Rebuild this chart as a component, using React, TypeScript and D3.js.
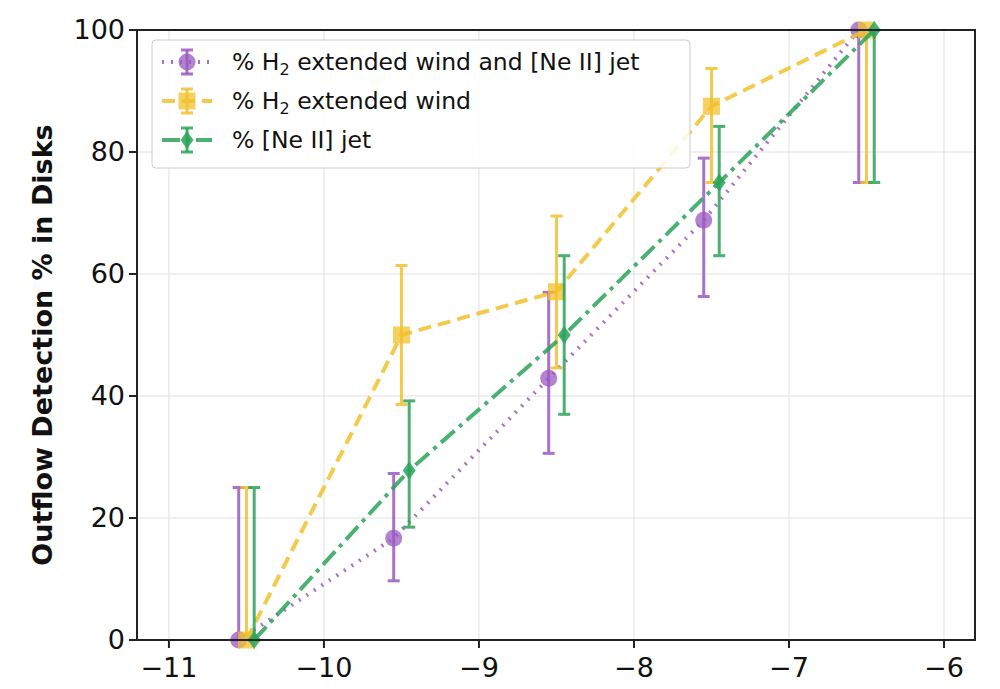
import * as d3 from 'd3';

const xCenters = [-10.5, -9.5, -8.5, -7.5, -6.5];
const xTicks = [-11, -10, -9, -8, -7, -6];
const yTicks = [0, 20, 40, 60, 80, 100];

const purpleVals = [0, 16.7, 42.9, 68.8, 100];
const purpleLo = [0, 9.7, 30.6, 56.3, 75];
const purpleHi = [25, 27.3, 57, 79, 100];

const yellowVals = [0, 50, 57.1, 87.5, 100];
const yellowLo = [0, 38.6, 44.6, 75, 75];
const yellowHi = [25, 61.4, 69.5, 93.7, 100];

const greenVals = [0, 27.8, 50, 75, 100];
const greenLo = [0, 18.5, 37, 63, 75];
const greenHi = [25, 39.2, 63, 84.2, 100];

const series = [
  { vals: purpleVals, lo: purpleLo, hi: purpleHi, dx: -0.05, color: '#9b59c0', dash: '2,7', shape: 'circle' },
  { vals: yellowVals, lo: yellowLo, hi: yellowHi, dx: 0, color: '#f2c12e', dash: '13,7', shape: 'square' },
  { vals: greenVals, lo: greenLo, hi: greenHi, dx: 0.05, color: '#2ca35a', dash: '18,6,4,6', shape: 'diamond' },
];

const W = 1000, H = 689;
const left = 137, right = 975, top = 30, bottom = 640;

export default function App() {
  const x = d3.scaleLinear().domain([-11.206, -5.8]).range([left, right]);
  const y = d3.scaleLinear().domain([0, 100]).range([bottom, top]);
  const font = 'DejaVu Sans, sans-serif';

  const marker = (shape: string, cx: number, cy: number, color: string, key?: string) => {
    if (shape === 'circle') return <circle key={key} cx={cx} cy={cy} r={8.5} fill={color} opacity={0.75} />;
    if (shape === 'square') return <rect key={key} x={cx - 8.5} y={cy - 8.5} width={17} height={17} fill={color} opacity={0.75} />;
    return <path key={key} d={`M${cx},${cy - 9}L${cx + 6.5},${cy}L${cx},${cy + 9}L${cx - 6.5},${cy}Z`} fill={color} opacity={0.85} />;
  };

  const labels = ['extended wind and [Ne II] jet', 'extended wind', '[Ne II] jet'];

  return (
    <svg width={W} height={H} style={{ position: 'absolute', left: 0, top: 0, background: '#fff' }} fontFamily={font}>
      {xTicks.map((t) => (
        <line key={'gx' + t} x1={x(t)} x2={x(t)} y1={top} y2={bottom} stroke="#e0e0e0" strokeWidth={1} />
      ))}
      {yTicks.map((t) => (
        <line key={'gy' + t} x1={left} x2={right} y1={y(t)} y2={y(t)} stroke="#e0e0e0" strokeWidth={1} />
      ))}
      {series.map((s, si) => {
        const line = d3.line<number>().x((_d, i) => x(xCenters[i] + s.dx)).y((d) => y(d));
        return (
          <g key={'s' + si}>
            <path d={line(s.vals) || ''} fill="none" stroke={s.color} strokeWidth={4} strokeDasharray={s.dash} opacity={0.85} />
            {s.vals.map((v, i) => {
              const cx = x(xCenters[i] + s.dx);
              return (
                <g key={i} stroke={s.color} strokeWidth={3} opacity={0.85}>
                  <line x1={cx} x2={cx} y1={y(s.lo[i])} y2={y(s.hi[i])} />
                  <line x1={cx - 6} x2={cx + 6} y1={y(s.lo[i])} y2={y(s.lo[i])} />
                  <line x1={cx - 6} x2={cx + 6} y1={y(s.hi[i])} y2={y(s.hi[i])} />
                </g>
              );
            })}
            {s.vals.map((v, i) => marker(s.shape, x(xCenters[i] + s.dx), y(v), s.color, 'm' + i))}
          </g>
        );
      })}
      <rect x={left} y={top} width={right - left} height={bottom - top} fill="none" stroke="#222" strokeWidth={2} />
      {xTicks.map((t) => (
        <g key={'tx' + t}>
          <line x1={x(t)} x2={x(t)} y1={bottom} y2={bottom + 8} stroke="#222" strokeWidth={2} />
          <text x={x(t)} y={bottom + 37} textAnchor="middle" fontSize={27} fill="#111">{'\u2212' + Math.abs(t)}</text>
        </g>
      ))}
      {yTicks.map((t) => (
        <g key={'ty' + t}>
          <line x1={left - 8} x2={left} y1={y(t)} y2={y(t)} stroke="#222" strokeWidth={2} />
          <text x={left - 12} y={y(t) + 9} textAnchor="end" fontSize={27} fill="#111">{t}</text>
        </g>
      ))}
      <text transform={`translate(52,${(top + bottom) / 2 + 10}) rotate(-90)`} textAnchor="middle" fontSize={27} fontWeight="bold" fill="#111">
        Outflow Detection % in Disks
      </text>
      <g>
        <rect x={152} y={40} width={538} height={128} rx={4} fill="#fff" fillOpacity={0.85} stroke="#ccc" />
        {series.map((s, i) => {
          const ly = 62 + i * 39;
          return (
            <g key={'l' + i}>
              <line x1={162} x2={212} y1={ly} y2={ly} stroke={s.color} strokeWidth={4} strokeDasharray={s.dash} opacity={0.85} />
              <line x1={187} x2={187} y1={ly - 12} y2={ly + 12} stroke={s.color} strokeWidth={3} opacity={0.85} />
              <line x1={181} x2={193} y1={ly - 12} y2={ly - 12} stroke={s.color} strokeWidth={3} opacity={0.85} />
              <line x1={181} x2={193} y1={ly + 12} y2={ly + 12} stroke={s.color} strokeWidth={3} opacity={0.85} />
              {marker(s.shape, 187, ly, s.color)}
              <text x={232} y={ly + 8} fontSize={23.5} fill="#111">
                {i < 2 ? (
                  <>
                    % H<tspan fontSize={16} dy={5}>2</tspan>
                    <tspan dy={-5}> {labels[i]}</tspan>
                  </>
                ) : (
                  '% ' + labels[i]
                )}
              </text>
            </g>
          );
        })}
      </g>
    </svg>
  );
}
